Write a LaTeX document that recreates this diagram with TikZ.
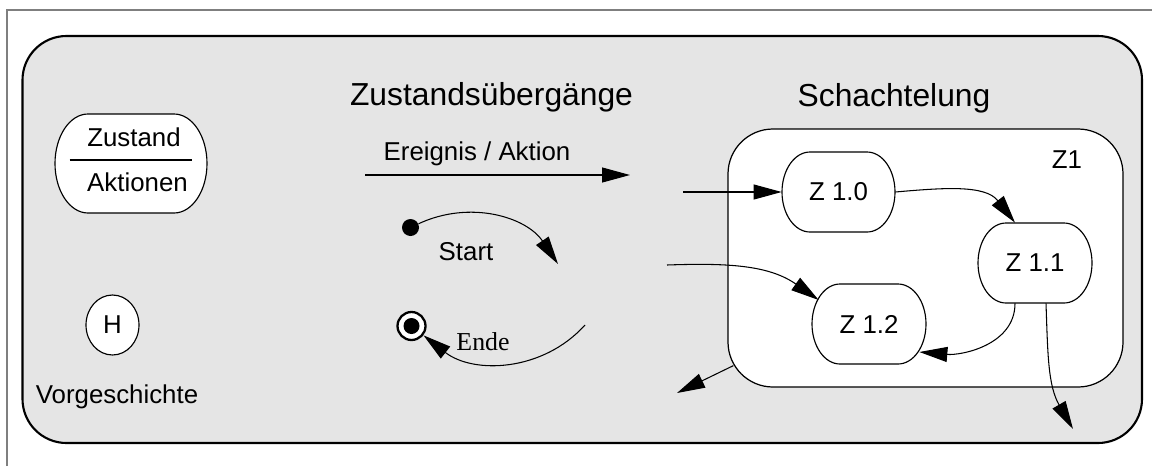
\documentclass[tikz,border=0pt]{standalone}
\usepackage{fontspec}
\setmainfont{Liberation Sans}
\newfontfamily\endefont{Liberation Serif}
\usetikzlibrary{positioning,arrows.meta,calc,shapes.geometric}
\definecolor{panelGray}{HTML}{E5E5E5}
\definecolor{frameGray}{HTML}{7F7F7F}
\tikzset{
    lbl/.style={font=\fontsize{14.7}{17}\selectfont,inner sep=0pt,anchor=base},
    headlbl/.style={font=\fontsize{18.1}{21}\selectfont,inner sep=0pt,anchor=base},
    stateline/.style={draw=black,fill=white,line width=0.65pt},
    statetext/.style={inner sep=0pt,font=\fontsize{14.7}{17}\selectfont},
    histnode/.style={ellipse,draw=black,fill=white,line width=0.65pt,inner sep=0pt,
        minimum width=1.06cm,minimum height=1.20cm,font=\fontsize{14.7}{17}\selectfont},
    startdot/.style={circle,fill=black,minimum size=0.34cm,inner sep=0pt},
    endring/.style={circle,draw=black,fill=white,line width=1.3pt,minimum size=0.56cm,inner sep=0pt},
    z1box/.style={draw=black,fill=white,rounded corners=0.9cm,line width=0.7pt,
        minimum width=7.90cm,minimum height=5.16cm,inner sep=0pt},
    panel/.style={draw=black,fill=panelGray,line width=1.2pt,rounded corners=0.88cm},
    transition/.style={-{Triangle[length=0.56cm,width=0.30cm]},line width=0.6pt}
}
% state with elliptic corners: name, centre, half width, half height, corner x/y radius, text
\newcommand{\stadium}[7]{%
    \draw[stateline,shift={#2}] ({-#3+#5},#4) -- ({#3-#5},#4)
        arc[start angle=90,end angle=0,x radius=#5,y radius=#6]
        -- (#3,{-#4+#6})
        arc[start angle=0,end angle=-90,x radius=#5,y radius=#6]
        -- ({-#3+#5},-#4)
        arc[start angle=270,end angle=180,x radius=#5,y radius=#6]
        -- (-#3,{#4-#6})
        arc[start angle=180,end angle=90,x radius=#5,y radius=#6] -- cycle;
    \node[statetext,minimum width={2*#3 cm},minimum height={2*#4 cm}] (#1) at #2 {#7};%
}

\begin{document}
\begin{tikzpicture}
    \useasboundingbox (0,0) rectangle (23.04,-9.32);
    \draw[frameGray,line width=0.6pt] (0.14,-9.32) -- (0.14,-0.20) -- (23.04,-0.20);
    \draw[panel] (0.45,-0.72) rectangle (22.84,-8.86);

    % Legende
    \stadium{zs}{(2.62,-3.27)}{1.52}{0.99}{0.66}{0.99}{}
    \node[lbl] (zstxt) at (2.68,-2.93) {Zustand};
    \node[lbl] (akttxt) at (2.75,-3.83) {Aktionen};
    \draw[line width=0.6pt] ([shift={(0.30,0.07)}]zs.west) -- ([shift={(-0.30,0.07)}]zs.east);
    \node[histnode] (hist) at (2.25,-6.50) {H};
    \node[lbl] (histtxt) at (2.34,-8.07) {Vorgeschichte};

    % Zustandsuebergaenge
    \node[headlbl] (uebtitle) at (9.83,-2.10) {Zustandsübergänge};
    \node[lbl] (evtxt) at (9.54,-3.20) {Ereignis / Aktion};
    \coordinate (evfrom) at (7.30,-3.50);
    \coordinate (evto) at (12.60,-3.50);
    \draw[transition] (evfrom) -- (evto);

    \node[startdot] (start) at (8.21,-4.55) {};
    \coordinate (startto) at (11.16,-5.28);
    \draw[transition] (start) to[out=25,in=124] (startto);
    \node[lbl] (starttxt) at (9.32,-5.20) {Start};

    \node[endring] (ende) at (8.23,-6.52) {};
    \node[startdot,minimum size=0.32cm] (endcore) at (ende) {};
    \coordinate (endfrom) at (11.70,-6.50);
    \draw[transition] (endfrom) to[out=228,in=-38] (ende);
    \node[lbl,font=\endefont\fontsize{14.7}{17}\selectfont] (endtxt) at (9.66,-7.00) {Ende};

    % Schachtelung
    \node[headlbl] (schtitle) at (17.88,-2.12) {Schachtelung};
    \node[z1box] (z1) at (18.51,-5.16) {};
    \node[lbl] (z1txt) at (21.34,-3.36) {Z1};
    \stadium{z10}{(16.77,-3.84)}{1.13}{0.80}{0.56}{0.80}{Z 1.0}
    \stadium{z11}{(20.70,-5.26)}{1.14}{0.80}{0.56}{0.80}{Z 1.1}
    \stadium{z12}{(17.38,-6.48)}{1.14}{0.80}{0.56}{0.80}{Z 1.2}

    \coordinate (inz10) at (13.66,-3.84);
    \coordinate (inz12) at (13.34,-5.30);
    \coordinate (z12tip) at ($(z12.west)+(0.14,0.48)$);
    \coordinate (z12tipb) at ($(z12.east)+(-0.14,-0.56)$);
    \coordinate (z1exit) at ($(z1.south west)+(0.12,0.44)$);
    \coordinate (outz1) at (13.54,-7.86);
    \coordinate (outz11) at (21.46,-8.58);

    \draw[transition] (inz10) -- (z10);
    \draw[transition] (z10.east) to[out=5,in=128] ([xshift=-0.40cm]z11.north);
    \draw[transition] (inz12) to[out=2,in=145] (z12tip);
    \draw[transition] ([xshift=-0.40cm]z11.south) to[out=-90,in=-5] (z12tipb);
    \draw[transition] ([xshift=0.22cm]z11.south) to[out=-88,in=120] (outz11);
    \draw[transition] (z1exit) -- (outz1);
\end{tikzpicture}
\end{document}
